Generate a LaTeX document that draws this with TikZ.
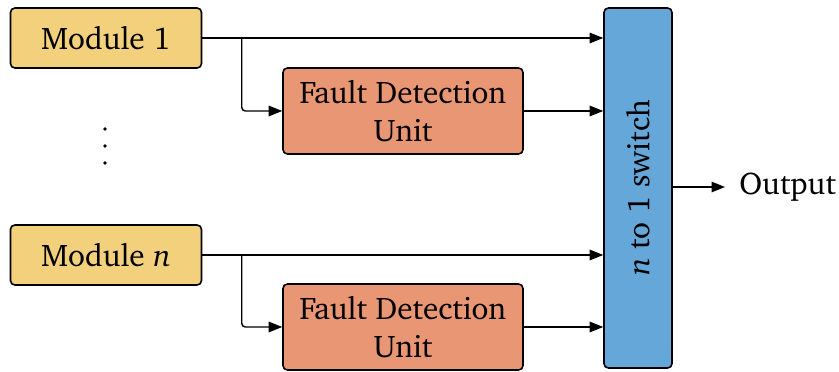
\documentclass[tikz,border=0pt]{standalone}
\usepackage[T1]{fontenc}
\usepackage{charter}
\usepackage{tikz}
\usetikzlibrary{positioning, arrows.meta, calc}

\definecolor{modyellow}{RGB}{243,209,124}
\definecolor{fduorange}{RGB}{232,150,116}
\definecolor{swblue}{RGB}{100,167,216}

\begin{document}
\begin{tikzpicture}[
    block/.style={rectangle, draw, line width=0.9pt, rounded corners=2.5pt, align=center, font=\fontsize{17.8}{21.5}\selectfont},
    arrow/.style={-{Triangle[length=2.7mm, width=2.1mm]}, line width=0.8pt}
]

\useasboundingbox (0,0) rectangle (16.78,-7.42);

\node[block, fill=modyellow, minimum width=3.82cm, minimum height=1.2cm] (mod1) at (2.12, -0.76) {Module 1};
\node[block, fill=modyellow, minimum width=3.82cm, minimum height=1.2cm] (modn) at (2.12, -5.1) {Module \textit{n}};

\node[block, fill=fduorange, minimum width=4.8cm, minimum height=1.72cm] (fdu1) at (8.06, -2.22) {Fault Detection\\Unit};
\node[block, fill=fduorange, minimum width=4.8cm, minimum height=1.72cm] (fdun) at (8.06, -6.54) {Fault Detection\\Unit};

\node[block, fill=swblue, minimum width=7.2cm, minimum height=1.36cm, rotate=90] (sw) at (12.76, -3.76) {\textit{n} to 1 switch};

\node[anchor=west, font=\fontsize{17.8}{21.5}\selectfont, inner sep=0pt] (out) at (14.78, -3.74) {Output};
\coordinate (outtip) at (14.5, -3.74);

% vertical dots
\foreach \y in {-2.58, -2.92, -3.26}
    \fill (2.1, \y) circle (1.05pt);

\draw[arrow] (mod1.east) -- (mod1.east -| sw.north);
\draw[arrow, rounded corners=2pt] ($(mod1.east)+(0.79,0)$) |- (fdu1.west);
\draw[arrow] (fdu1.east) -- (fdu1.east -| sw.north);

\draw[arrow] (modn.east) -- (modn.east -| sw.north);
\draw[arrow, rounded corners=2pt] ($(modn.east)+(0.79,0)$) |- (fdun.west);
\draw[arrow] (fdun.east) -- (fdun.east -| sw.north);

\draw[arrow] (sw.south |- outtip) -- (outtip);

\end{tikzpicture}
\end{document}
